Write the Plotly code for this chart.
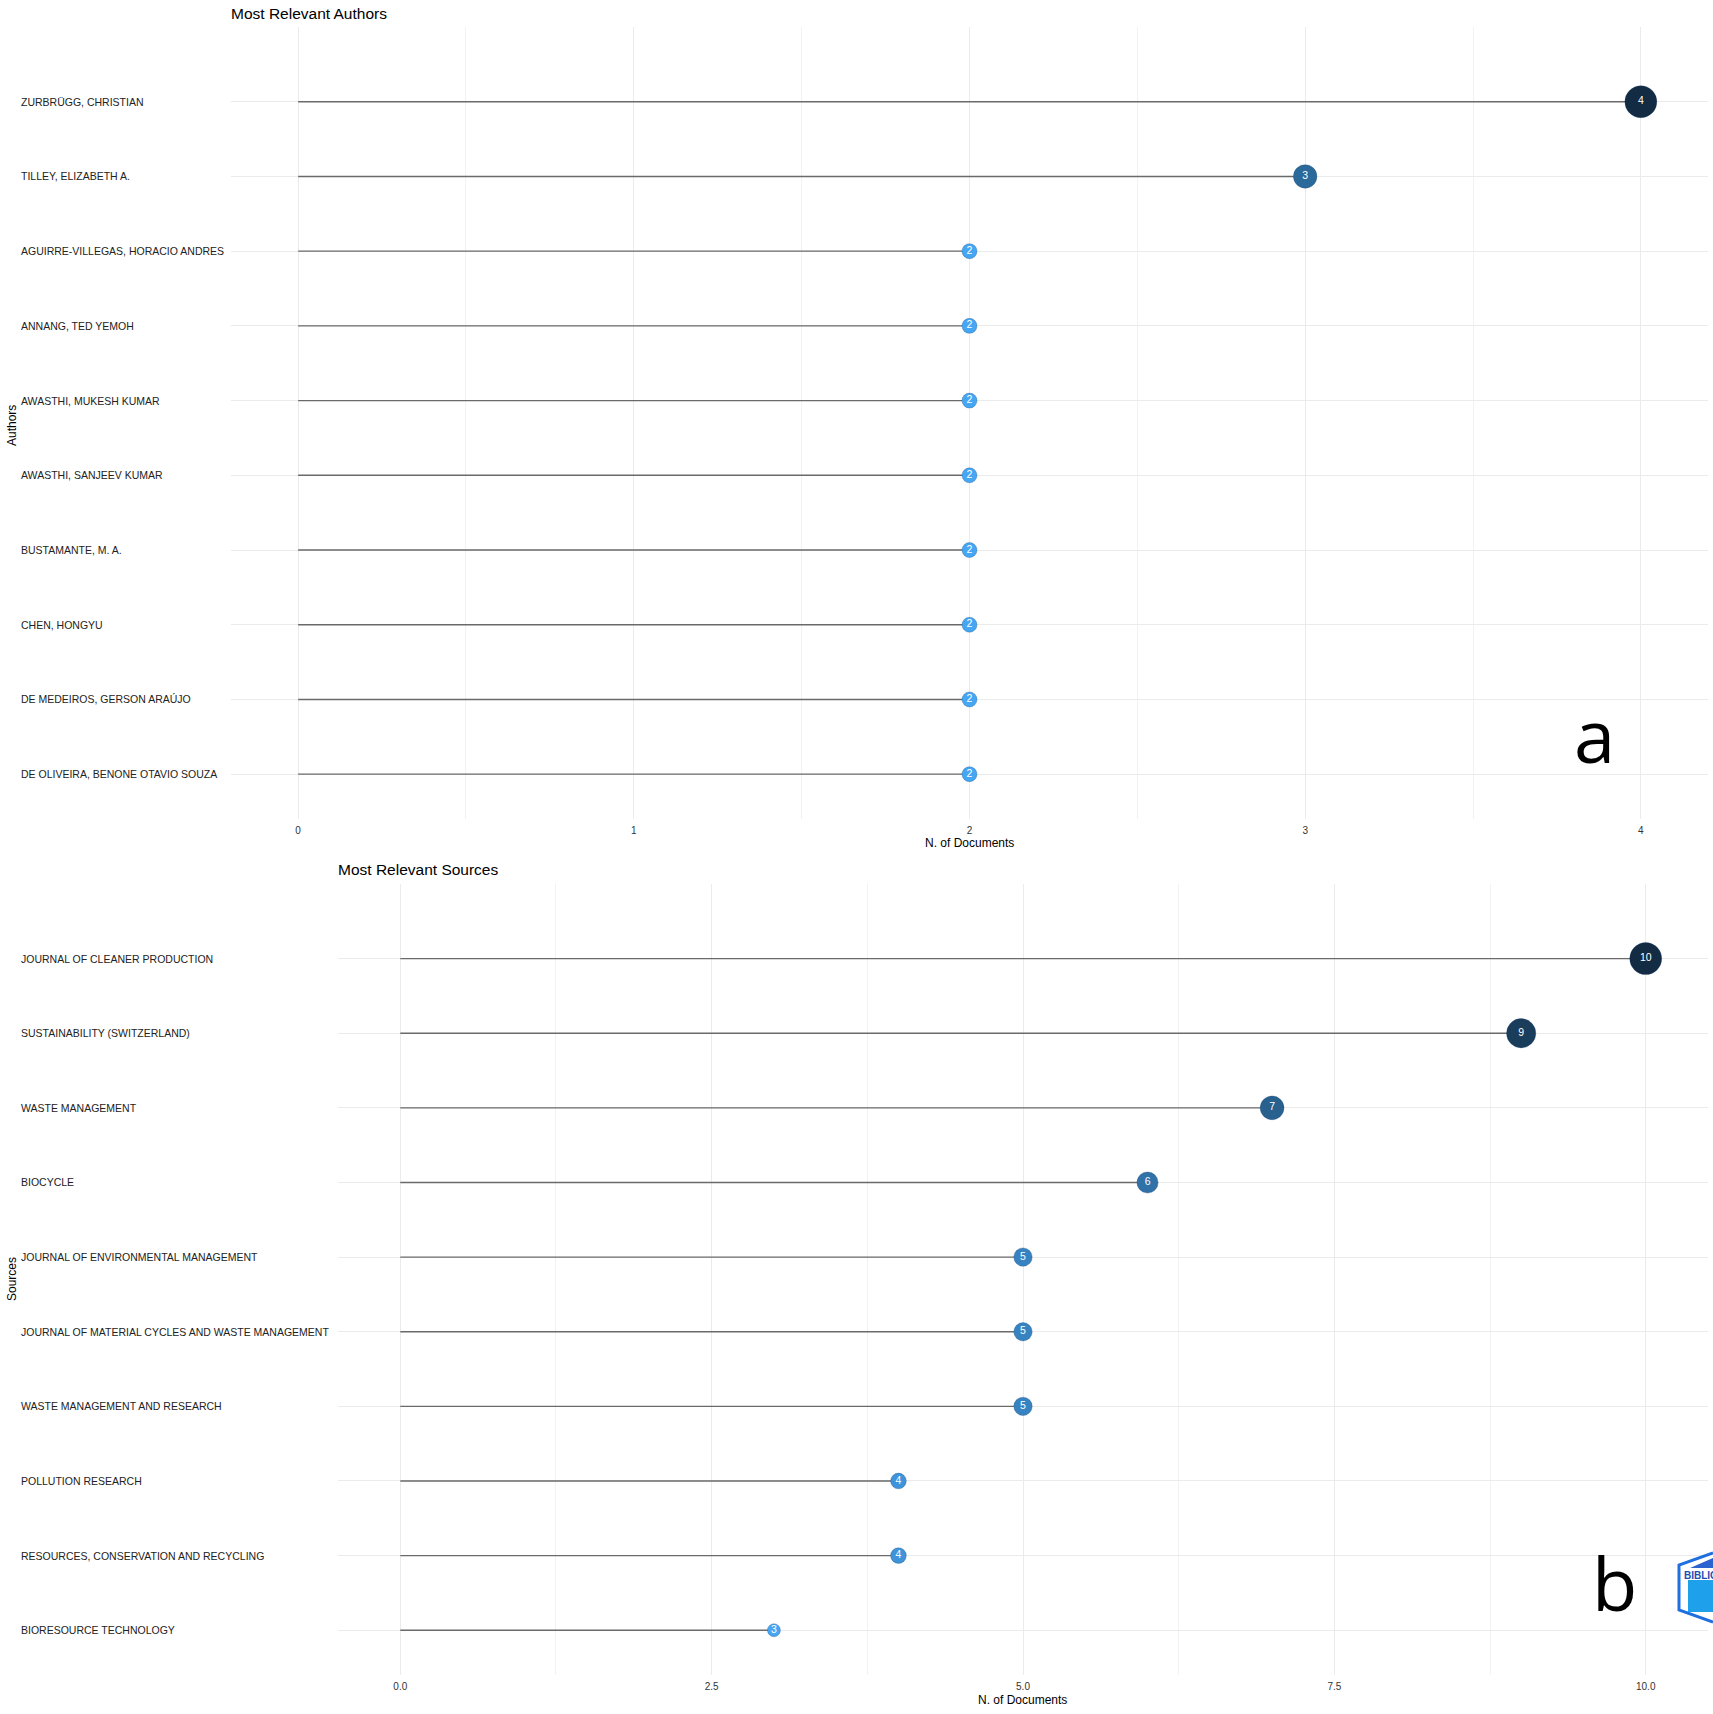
import plotly.graph_objects as go

W, H = 1713, 1714

# ---------------- data ----------------
authors = [
    "ZURBRÜGG, CHRISTIAN",
    "TILLEY, ELIZABETH A.",
    "AGUIRRE-VILLEGAS, HORACIO ANDRES",
    "ANNANG, TED YEMOH",
    "AWASTHI, MUKESH KUMAR",
    "AWASTHI, SANJEEV KUMAR",
    "BUSTAMANTE, M. A.",
    "CHEN, HONGYU",
    "DE MEDEIROS, GERSON ARAÚJO",
    "DE OLIVEIRA, BENONE OTAVIO SOUZA",
]
author_docs = [4, 3, 2, 2, 2, 2, 2, 2, 2, 2]

sources = [
    "JOURNAL OF CLEANER PRODUCTION",
    "SUSTAINABILITY (SWITZERLAND)",
    "WASTE MANAGEMENT",
    "BIOCYCLE",
    "JOURNAL OF ENVIRONMENTAL MANAGEMENT",
    "JOURNAL OF MATERIAL CYCLES AND WASTE MANAGEMENT",
    "WASTE MANAGEMENT AND RESEARCH",
    "POLLUTION RESEARCH",
    "RESOURCES, CONSERVATION AND RECYCLING",
    "BIORESOURCE TECHNOLOGY",
]
source_docs = [10, 9, 7, 6, 5, 5, 5, 4, 4, 3]

author_ticks = [0, 1, 2, 3, 4]
source_ticks = [0.0, 2.5, 5.0, 7.5, 10.0]

FONT = "Liberation Sans, Arial, sans-serif"
COLORSCALE = [[0, "#45A6F3"], [1, "#132B43"]]
GRID = "#EBEBEB"
MINOR = "#F2F2F2"

fig = go.Figure()


def add_panel(cats, vals, xa, ya, dmin, dmax):
    order = list(reversed(cats))
    # stems
    xs, ys = [], []
    for c, v in zip(cats, vals):
        xs += [0, v, None]
        ys += [c, c, None]
    fig.add_trace(go.Scatter(x=xs, y=ys, mode="lines",
                             line=dict(color="#6a6a6a", width=1.4),
                             xaxis=xa, yaxis=ya, hoverinfo="skip",
                             showlegend=False))
    vmin, vmax = min(vals), max(vals)
    sizes = [dmin + (v - vmin) / (vmax - vmin) * (dmax - dmin) for v in vals]
    fig.add_trace(go.Scatter(
        x=vals, y=cats, mode="markers+text",
        text=[str(v) for v in vals], textposition="middle center",
        textfont=dict(color="white", size=10.5, family=FONT),
        marker=dict(size=sizes, color=vals, colorscale=COLORSCALE,
                    cmin=vmin, cmax=vmax, line=dict(width=0.8, color="rgba(20,60,110,0.35)"),
                    opacity=1),
        xaxis=xa, yaxis=ya, showlegend=False))
    return order


order_a = add_panel(authors, author_docs, "x", "y", 15, 32)
order_s = add_panel(sources, source_docs, "x2", "y2", 13, 32)

top_dom = [1 - 819 / H, 1 - 27 / H]
bot_dom = [1 - 1675 / H, 1 - 884 / H]

common_x = dict(showgrid=True, gridcolor=GRID, gridwidth=1.2, zeroline=False,
                showline=False, ticks="outside", ticklen=2, tickcolor="rgba(0,0,0,0)",
                tickfont=dict(size=10, family=FONT, color="#333"),
                automargin=False)
common_y = dict(type="category", showgrid=True, gridcolor=GRID, gridwidth=1.2,
                zeroline=False, showline=False, showticklabels=False,
                ticks="", automargin=False)

fig.update_layout(
    width=W, height=H, margin=dict(l=0, r=0, t=0, b=0),
    paper_bgcolor="white", plot_bgcolor="white",
    font=dict(family=FONT, color="black"),
    xaxis=dict(domain=[231 / W, 1708 / W], anchor="y", range=[-0.2, 4.2],
               tickvals=author_ticks, ticktext=[str(t) for t in author_ticks],
               minor=dict(dtick=0.5, tick0=0, showgrid=True, gridcolor=MINOR, gridwidth=0.8),
               **common_x),
    yaxis=dict(domain=top_dom, anchor="x", categoryorder="array",
               categoryarray=order_a, range=[-0.6, 10.0], **common_y),
    xaxis2=dict(domain=[338 / W, 1708 / W], anchor="y2", range=[-0.5, 10.5],
                tickvals=source_ticks, ticktext=[f"{t:.1f}" for t in source_ticks],
                minor=dict(dtick=1.25, tick0=0, showgrid=True, gridcolor=MINOR, gridwidth=0.8),
                **common_x),
    yaxis2=dict(domain=bot_dom, anchor="x2", categoryorder="array",
                categoryarray=order_s, range=[-0.6, 10.0], **common_y),
)

ann = []
LBL = dict(size=10.5, family=FONT, color="#222")
# category labels, left aligned
for c in authors:
    ann.append(dict(text=c, xref="paper", x=19 / W, xanchor="left", yref="y", y=c,
                    yanchor="middle", showarrow=False, font=LBL))
for c in sources:
    ann.append(dict(text=c, xref="paper", x=19 / W, xanchor="left", yref="y2", y=c,
                    yanchor="middle", showarrow=False, font=LBL))

# titles
ann.append(dict(text="Most Relevant Authors", xref="paper", yref="paper", x=229 / W,
                y=1 - 13 / H, xanchor="left", yanchor="middle", showarrow=False,
                font=dict(size=15.5, family=FONT)))
ann.append(dict(text="Most Relevant Sources", xref="paper", yref="paper", x=336 / W,
                y=1 - 869 / H, xanchor="left", yanchor="middle", showarrow=False,
                font=dict(size=15.5, family=FONT)))
# axis titles
ann.append(dict(text="N. of Documents", xref="paper", yref="paper", x=969 / W,
                y=1 - 843 / H, xanchor="center", yanchor="middle", showarrow=False,
                font=dict(size=12, family=FONT)))
ann.append(dict(text="N. of Documents", xref="paper", yref="paper", x=1022 / W,
                y=1 - 1700 / H, xanchor="center", yanchor="middle", showarrow=False,
                font=dict(size=12, family=FONT)))
ann.append(dict(text="Authors", xref="paper", yref="paper", x=12 / W,
                y=1 - 426 / H, xanchor="center", yanchor="middle", textangle=-90,
                showarrow=False, font=dict(size=12, family=FONT)))
ann.append(dict(text="Sources", xref="paper", yref="paper", x=12 / W,
                y=1 - 1279 / H, xanchor="center", yanchor="middle", textangle=-90,
                showarrow=False, font=dict(size=12, family=FONT)))
# panel letters
ann.append(dict(text="a", xref="paper", yref="paper", x=1594 / W, y=1 - 735 / H,
                xanchor="center", yanchor="middle", showarrow=False,
                font=dict(size=74, family="Open Sans", color="black")))
ann.append(dict(text="b", xref="paper", yref="paper", x=1614 / W, y=1 - 1582 / H,
                xanchor="center", yanchor="middle", showarrow=False,
                font=dict(size=74, family="Open Sans", color="black")))
# logo text (cut at the page edge, as in the reference)
ann.append(dict(text="<b>BIBLIO</b>", xref="paper", yref="paper", x=1682 / W, y=1 - 1575 / H,
                xanchor="left", yanchor="middle", showarrow=False,
                font=dict(size=10, family=FONT, color="#1a4fb0")))
fig.update_layout(annotations=ann)

# partial bibliometrix logo (cut at right edge)
fig.add_shape(type="path", xref="paper", yref="paper",
              path=f"M {1713/W} {1-1553/H} L {1679/W} {1-1565/H} L {1679/W} {1-1610/H} L {1713/W} {1-1622/H}",
              line=dict(color="#1f6fe0", width=3))
fig.add_shape(type="path", xref="paper", yref="paper",
              path=f"M {1713/W} {1-1558/H} L {1690/W} {1-1568/H} L {1713/W} {1-1568/H} Z",
              fillcolor="#2a62d0", line=dict(width=0))
fig.add_shape(type="rect", xref="paper", yref="paper",
              x0=1688 / W, x1=1713 / W, y0=1 - 1612 / H, y1=1 - 1580 / H,
              fillcolor="#1fa0ea", line=dict(width=0))

fig.write_html("out.html")
